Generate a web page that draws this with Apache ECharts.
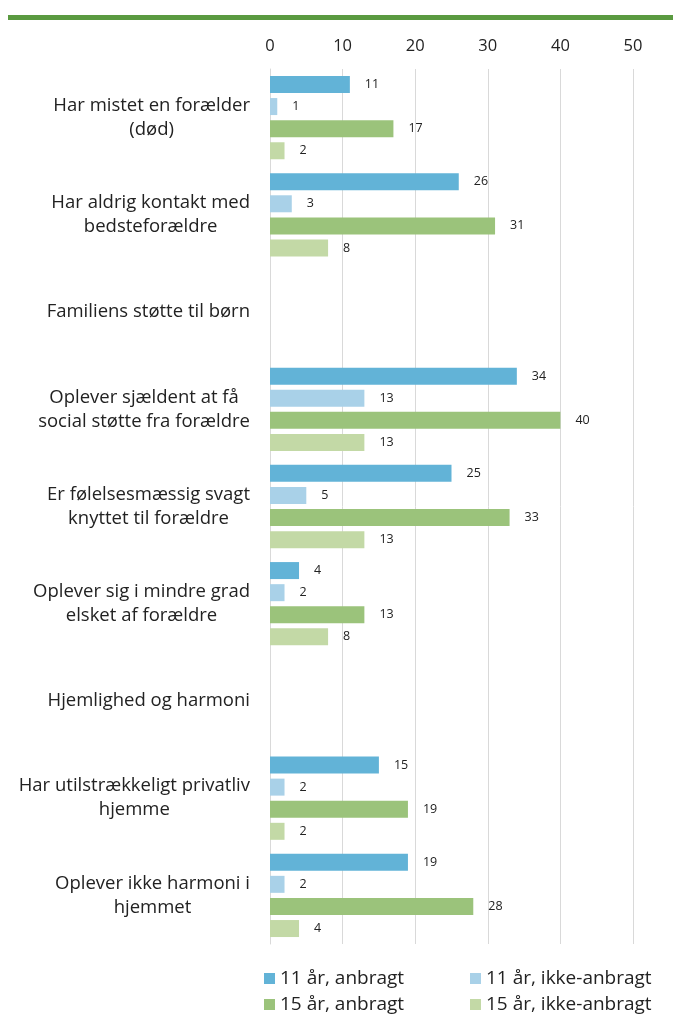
<!DOCTYPE html>
<html>
<head>
<meta charset="utf-8">
<script src="https://cdn.jsdelivr.net/npm/echarts@6/dist/echarts.min.js"></script>
<style>
  html, body { margin: 0; padding: 0; background: #fff; }
</style>
</head>
<body>
<div id="myChart" style="width:673px;height:1016px;"></div>
<script>
  // kategorier (tomme rækker er overskrifter)
  const categories = [
    'Har mistet en forælder\n(død)',
    'Har aldrig kontakt med\nbedsteforældre',
    'Familiens støtte til børn',
    'Oplever sjældent at få\nsocial støtte fra forældre',
    'Er følelsesmæssig svagt\nknyttet til forældre',
    'Oplever sig i mindre grad\nelsket af forældre',
    'Hjemlighed og harmoni',
    'Har utilstrækkeligt privatliv\nhjemme',
    'Oplever ikke harmoni i\nhjemmet'
  ];
  const seriesNames = ['11 år, anbragt', '11 år, ikke-anbragt', '15 år, anbragt', '15 år, ikke-anbragt'];
  const anbragt11 = [11, 26, null, 34, 25, 4, null, 15, 19];
  const ikkeAnbragt11 = [1, 3, null, 13, 5, 2, null, 2, 2];
  const anbragt15 = [17, 31, null, 40, 33, 13, null, 19, 28];
  const ikkeAnbragt15 = [2, 8, null, 13, 13, 8, null, 2, 4];
  const xTicks = [0, 10, 20, 30, 40, 50];

  const colors = ['#62b3d7', '#a9d1e8', '#9bc37b', '#c3d9a6'];
  const font = '"Open Sans", Lato, sans-serif';

  function makeSeries(name, data, color) {
    return {
      name: name,
      type: 'bar',
      data: data,
      barWidth: 17,
      barGap: '30%',
      itemStyle: { color: color },
      label: {
        show: true,
        position: 'right',
        distance: 15,
        color: '#222',
        fontSize: 12.5,
        fontFamily: font
      }
    };
  }

  // en legend pr. serie, placeret i 2x2
  const legendPos = [[264, 969], [470, 969], [264, 995], [470, 995]];
  const legends = seriesNames.map((name, i) => ({
    left: legendPos[i][0],
    top: legendPos[i][1],
    padding: 0,
    itemWidth: 11,
    itemHeight: 11,
    icon: 'rect',
    textStyle: { color: '#222', fontSize: 19, fontFamily: font },
    data: [name]
  }));

  const myChart = echarts.init(document.getElementById('myChart'));
  myChart.setOption({
    animation: false,
    graphic: [{
      type: 'rect',
      shape: { x: 8, y: 15, width: 665, height: 5 },
      style: { fill: '#5a9a40' }
    }],
    grid: { left: 270, right: 40, top: 69, height: 875 },
    xAxis: {
      type: 'value',
      position: 'top',
      min: xTicks[0],
      max: xTicks[xTicks.length - 1],
      interval: 10,
      axisLine: { show: false },
      axisTick: { show: false },
      axisLabel: { color: '#222', fontSize: 16.5, fontFamily: font, margin: 14 },
      splitLine: { lineStyle: { color: '#d9d9d9', width: 1 } }
    },
    yAxis: {
      type: 'category',
      inverse: true,
      data: categories,
      axisLine: { show: true, lineStyle: { color: '#d9d9d9' } },
      axisTick: { show: false },
      axisLabel: {
        color: '#222',
        fontSize: 18.5,
        fontFamily: font,
        align: 'right',
        margin: 20,
        lineHeight: 24,
        // blokken højrestilles, linjerne centreres i blokken
        formatter: v => v.split('\n').map(l => '{c|' + l + '}').join('\n'),
        rich: {
          c: { align: 'center', color: '#222', fontSize: 18.5, fontFamily: font, lineHeight: 24 }
        }
      }
    },
    legend: legends,
    series: [
      makeSeries(seriesNames[0], anbragt11, colors[0]),
      makeSeries(seriesNames[1], ikkeAnbragt11, colors[1]),
      makeSeries(seriesNames[2], anbragt15, colors[2]),
      makeSeries(seriesNames[3], ikkeAnbragt15, colors[3])
    ]
  });
</script>
</body>
</html>
